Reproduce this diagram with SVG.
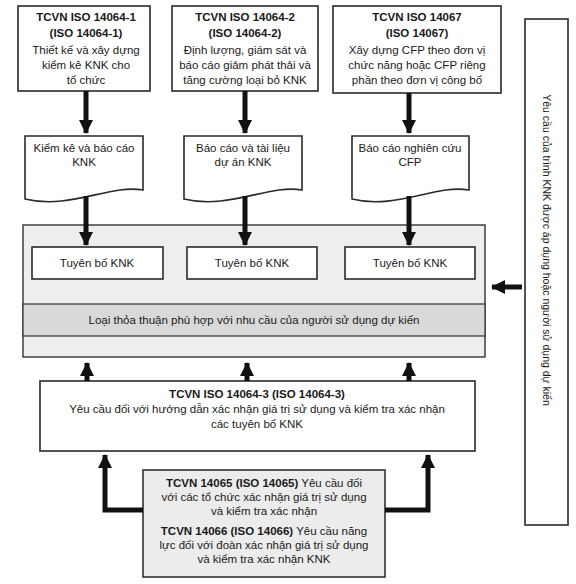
<svg xmlns="http://www.w3.org/2000/svg" width="576" height="584" viewBox="0 0 576 584">
<defs>
<style>
.box{fill:#fff;stroke:#2a2a2a;stroke-width:1.6}
.big{fill:#eeeeee;stroke:#333;stroke-width:1.4}
.band{fill:#d9d9d9;stroke:#333;stroke-width:1.2}
.gbox{fill:#ececec;stroke:#333;stroke-width:1.6}
.t{font-family:"Liberation Sans",Arial,sans-serif;font-size:11.5px;fill:#1a1a1a;text-anchor:middle}
.b{font-weight:bold}
.v{font-size:10.5px}
.arr{stroke:#111;stroke-width:5;fill:none}
</style>
<marker id="ah" markerUnits="userSpaceOnUse" markerWidth="14" markerHeight="14" viewBox="0 0 14 14" refX="13" refY="7" orient="auto">
<path d="M0,0 L14,7 L0,14 Z" fill="#111"/>
</marker>
</defs>
<rect width="576" height="584" fill="#fff"/>

<g id="iso14064-1">
<rect class="box" x="18" y="6" width="132" height="85"/>
<text class="t b" x="86" y="21">TCVN ISO 14064-1</text>
<text class="t b" x="86" y="37">(ISO 14064-1)</text>
<text class="t" x="86" y="54">Thiết kế và xây dựng</text>
<text class="t" x="86" y="69">kiểm kê KNK cho</text>
<text class="t" x="86" y="84">tổ chức</text>
</g>
<g id="iso14064-2">
<rect class="box" x="172" y="6" width="146" height="85"/>
<text class="t b" x="245" y="21">TCVN ISO 14064-2</text>
<text class="t b" x="245" y="37">(ISO 14064-2)</text>
<text class="t" x="245" y="54">Định lượng, giám sát và</text>
<text class="t" x="245" y="69">báo cáo giảm phát thải và</text>
<text class="t" x="245" y="84">tăng cường loại bỏ KNK</text>
</g>
<g id="iso14067">
<rect class="box" x="333" y="6" width="168" height="87"/>
<text class="t b" x="417" y="21">TCVN ISO 14067</text>
<text class="t b" x="417" y="37">(ISO 14067)</text>
<text class="t" x="417" y="54">Xây dựng CFP theo đơn vị</text>
<text class="t" x="417" y="69">chức năng hoặc CFP riêng</text>
<text class="t" x="417" y="84">phần theo đơn vị công bố</text>
</g>

<g id="doc1">
<path class="box" d="M25,136 H143 V190 C110,184 70,210 25,199 Z"/>
<text class="t" x="84" y="152">Kiểm kê và báo cáo</text>
<text class="t" x="84" y="166">KNK</text>
</g>
<g id="doc2">
<path class="box" d="M184,136 H302 V190 C269,184 229,210 184,199 Z"/>
<text class="t" x="243" y="152">Báo cáo và tài liệu</text>
<text class="t" x="243" y="166">dự án KNK</text>
</g>
<g id="doc3">
<path class="box" d="M352,136 H469 V190 C436,184 396,210 352,199 Z"/>
<text class="t" x="410" y="152">Báo cáo nghiên cứu</text>
<text class="t" x="410" y="166">CFP</text>
</g>

<g id="claims">
<rect class="big" x="23" y="225" width="462" height="132"/>
<rect class="band" x="23" y="304" width="462" height="32"/>
<text class="t" x="254" y="324">Loại thỏa thuận phù hợp với nhu cầu của người sử dụng dự kiến</text>
</g>
<g id="claim1">
<rect class="box" x="32" y="247" width="131" height="32"/>
<text class="t" x="97" y="267">Tuyên bố KNK</text>
</g>
<g id="claim2">
<rect class="box" x="187" y="247" width="130" height="32"/>
<text class="t" x="252" y="267">Tuyên bố KNK</text>
</g>
<g id="claim3">
<rect class="box" x="345" y="247" width="130" height="32"/>
<text class="t" x="410" y="267">Tuyên bố KNK</text>
</g>

<g id="iso14064-3">
<rect class="box" x="40" y="381" width="435" height="70"/>
<text class="t b" x="257" y="398">TCVN ISO 14064-3 (ISO 14064-3)</text>
<text class="t" x="257" y="413">Yêu cầu đối với hướng dẫn xác nhận giá trị sử dụng và kiểm tra xác nhận</text>
<text class="t" x="257" y="428">các tuyên bố KNK</text>
</g>

<g id="iso14065-14066">
<rect class="gbox" x="143" y="470" width="242" height="107"/>
<text class="t" x="264" y="487"><tspan class="b">TCVN 14065 (ISO 14065)</tspan> Yêu cầu đối</text>
<text class="t" x="264" y="501">với các tổ chức xác nhận giá trị sử dụng</text>
<text class="t" x="264" y="515">và kiểm tra xác nhận</text>
<text class="t" x="264" y="535"><tspan class="b">TCVN 14066 (ISO 14066)</tspan> Yêu cầu năng</text>
<text class="t" x="264" y="549">lực đối với đoàn xác nhận giá trị sử dụng</text>
<text class="t" x="264" y="563">và kiểm tra xác nhận KNK</text>
</g>

<g id="requirements">
<rect class="box" x="525" y="19" width="43" height="506"/>
<text class="t v" transform="translate(543,250) rotate(90)">Yêu cầu của trình KNK được áp dụng hoặc người sử dụng dự kiến</text>
</g>

<g id="connectors">
<path class="arr" d="M86,91 V133" marker-end="url(#ah)"/>
<path class="arr" d="M245,91 V133" marker-end="url(#ah)"/>
<path class="arr" d="M409,93 V133" marker-end="url(#ah)"/>
<path class="arr" d="M86,196 V245" marker-end="url(#ah)"/>
<path class="arr" d="M245,196 V245" marker-end="url(#ah)"/>
<path class="arr" d="M409,196 V245" marker-end="url(#ah)"/>
<path class="arr" d="M522,287 H492" marker-end="url(#ah)"/>
<path class="arr" d="M87,381 V363" marker-end="url(#ah)"/>
<path class="arr" d="M247,381 V363" marker-end="url(#ah)"/>
<path class="arr" d="M409,381 V363" marker-end="url(#ah)"/>
<path class="arr" d="M143,510 H105 V455" marker-end="url(#ah)"/>
<path class="arr" d="M385,510 H428 V455" marker-end="url(#ah)"/>
</g>
</svg>
